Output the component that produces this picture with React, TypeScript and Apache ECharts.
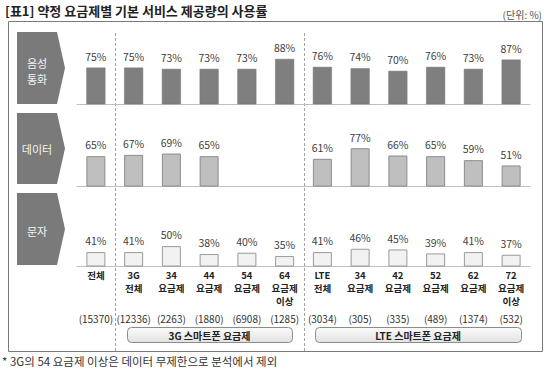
import React, { useEffect, useRef } from "react";
import * as echarts from "echarts";

const categories = ["전체", "3G\n전체", "34\n요금제", "44\n요금제", "54\n요금제", "64\n요금제\n이상", "LTE\n전체", "34\n요금제", "42\n요금제", "52\n요금제", "62\n요금제", "72\n요금제\n이상"];
const counts = ["(15370)", "(12336)", "(2263)", "(1880)", "(6908)", "(1285)", "(3034)", "(305)", "(335)", "(489)", "(1374)", "(532)"];
const voice = [75, 75, 73, 73, 73, 88, 76, 74, 70, 76, 73, 87];
const data = [65, 67, 69, 65, null, null, 61, 77, 66, 65, 59, 51];
const sms = [41, 41, 50, 38, 40, 35, 41, 46, 45, 39, 41, 37];
const rowNames = ["음성\n통화", "데이터", "문자"];
const groupNames = ["3G 스마트폰 요금제", "LTE 스마트폰 요금제"];

const FONT = "'Noto Sans CJK KR', 'Noto Sans', sans-serif";

export default function App() {
  const ref = useRef<HTMLDivElement>(null);
  useEffect(() => {
    document.body.style.margin = "0";
    const chart = echarts.init(ref.current!, undefined, { renderer: "svg" });
    const gridTops = [51, 133, 213];
    const gridH = 53;
    const left = 77;
    const width = 453;
    const band = width / categories.length;
    const rowData = [voice, data, sms];
    const barStyles = [
      { color: "#7f7f7f", borderColor: "#737373", borderWidth: 0.5 },
      { color: "#bfbfbf", borderColor: "#8c8c8c", borderWidth: 1 },
      { color: "#f2f2f2", borderColor: "#9a9a9a", borderWidth: 1 },
    ];
    const pentagons = [
      [32, 104],
      [113, 184],
      [193, 265],
    ];
    const graphics: any[] = [
      {
        type: "text",
        left: 5,
        top: 4,
        style: { text: "[표1] 약정 요금제별 기본 서비스 제공량의 사용률", font: `bold 13px ${FONT}`, fill: "#222" },
      },
      {
        type: "text",
        right: 8,
        top: 9,
        style: { text: "(단위: %)", font: `10px ${FONT}`, fill: "#555" },
      },
      {
        type: "rect",
        shape: { x: 8.5, y: 21.5, width: 534, height: 330 },
        style: { fill: "none", stroke: "#7a7a7a", lineWidth: 1 },
        z: 0,
      },
      {
        type: "text",
        left: 2,
        top: 355,
        style: { text: "* 3G의 54 요금제 이상은 데이터 무제한으로 분석에서 제외", font: `11.5px ${FONT}`, fill: "#333" },
      },
    ];
    pentagons.forEach(([t, b], i) => {
      const mid = (t + b) / 2;
      graphics.push({
        type: "polygon",
        shape: { points: [[17, t], [57, t], [65, mid], [57, b], [17, b]] },
        style: { fill: "#7a7a7a" },
      });
      graphics.push({
        type: "text",
        x: 37,
        y: mid + (i === 0 ? 3 : i === 2 ? 2 : 0),
        style: {
          text: rowNames[i],
          font: `11px ${FONT}`,
          fill: "#f4f4f4",
          align: "center",
          verticalAlign: "middle",
          lineHeight: 16,
        },
      });
    });
    [1, 6].forEach((k) => {
      const x = Math.round(left + k * band) + 0.5;
      graphics.push({
        type: "line",
        shape: { x1: x, y1: 33, x2: x, y2: 351 },
        style: { stroke: "#a6a6a6", lineWidth: 1, lineDash: [3, 2] },
      });
    });
    const boxes = [
      [127, 292],
      [315, 521],
    ];
    boxes.forEach(([x1, x2], i) => {
      graphics.push({
        type: "rect",
        shape: { x: x1 + 0.5, y: 327.5, width: x2 - x1, height: 15, r: 4 },
        style: {
          fill: new echarts.graphic.LinearGradient(0, 0, 0, 1, [
            { offset: 0, color: "#fbfbfb" },
            { offset: 1, color: "#e2e2e2" },
          ]),
          stroke: "#8c8c8c",
          lineWidth: 1,
        },
      });
      graphics.push({
        type: "text",
        x: (x1 + x2) / 2,
        y: 335,
        style: {
          text: groupNames[i],
          font: `bold 10px ${FONT}`,
          fill: "#222",
          align: "center",
          verticalAlign: "middle",
        },
        z: 10,
      });
    });

    const xAxes: any[] = gridTops.map((_, i) => ({
      type: "category",
      gridIndex: i,
      data: categories,
      axisLine: { lineStyle: { color: "#bfbfbf", width: 1 } },
      axisTick: { show: false },
      axisLabel:
        i === 2
          ? {
              interval: 0,
              margin: 2,
              fontFamily: FONT,
              fontSize: 9.5,
              fontWeight: "bold",
              color: "#222",
              lineHeight: 13,
            }
          : { show: false },
    }));
    xAxes.push({
      type: "category",
      gridIndex: 2,
      position: "bottom",
      offset: 42,
      data: counts,
      axisLine: { show: false },
      axisTick: { show: false },
      axisLabel: { interval: 0, margin: 5, fontFamily: FONT, fontSize: 10, color: "#333" },
    });

    chart.setOption({
      animation: false,
      backgroundColor: "#fff",
      grid: gridTops.map((top) => ({ left, width, top, height: gridH })),
      xAxis: xAxes,
      yAxis: gridTops.map((_, i) => ({
        type: "value",
        gridIndex: i,
        min: 20,
        max: 100,
        show: false,
        splitLine: { show: false },
      })),
      series: rowData.map((vals, i) => ({
        type: "bar",
        xAxisIndex: i,
        yAxisIndex: i,
        data: vals,
        barWidth: 19,
        itemStyle: barStyles[i],
        label: {
          show: true,
          position: "top",
          distance: 6,
          formatter: "{c}%",
          fontFamily: FONT,
          fontSize: 10.5,
          color: "#404040",
        },
      })),
      graphic: graphics,
    });
    return () => chart.dispose();
  }, []);
  return <div ref={ref} style={{ width: 550, height: 375 }} />;
}
